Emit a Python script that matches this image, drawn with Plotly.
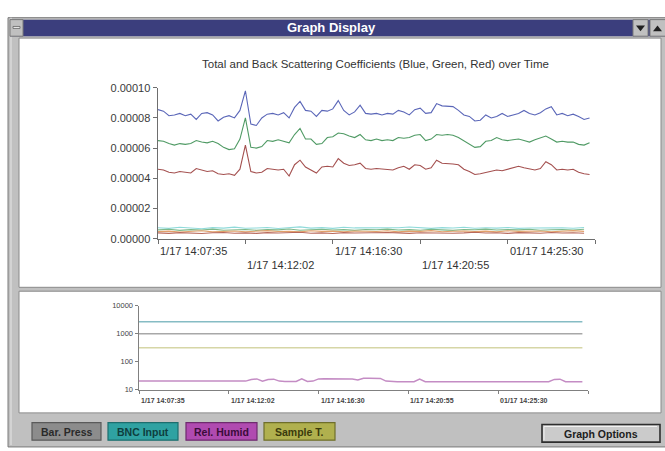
import plotly.graph_objects as go

W, H = 665, 451

# ---------------- data ----------------
# top chart: scattering coefficients, values in units of 1e-5
sample_idx = list(range(80))
blue_total = [8.55, 8.45, 8.15, 8.2, 8.3, 8.15, 8.25, 7.9, 8.3, 8.35,
              8.2, 7.8, 8.05, 8.15, 8.0, 8.5, 9.8, 7.6, 7.5, 8.0,
              8.25, 8.3, 8.2, 8.35, 8.0, 8.7, 9.1, 8.5, 8.45, 8.1,
              8.5, 8.45, 8.6, 9.15, 8.5, 8.2, 8.4, 8.85, 8.3, 8.25,
              8.3, 8.2, 8.3, 8.25, 8.5, 8.4, 8.2, 8.55, 8.65, 8.3,
              8.35, 8.95, 8.8, 8.8, 8.75, 8.5, 8.2, 8.1, 7.8, 7.85,
              8.2, 8.0, 8.1, 8.3, 8.1, 8.2, 8.3, 8.5, 8.3, 8.2,
              8.35, 8.6, 8.75, 8.2, 8.3, 8.15, 8.25, 8.1, 7.9, 8.0]
green_total = [6.5, 6.45, 6.3, 6.2, 6.3, 6.25, 6.3, 6.5, 6.4, 6.35,
               6.45, 6.3, 6.05, 5.9, 5.95, 6.6, 8.0, 6.05, 6.0, 6.1,
               6.5, 6.45, 6.55, 6.45, 6.35, 6.9, 7.3, 6.6, 6.6, 6.25,
               6.3, 6.7, 6.75, 7.0, 6.95, 6.8, 6.7, 6.9, 6.55, 6.5,
               6.6, 6.5, 6.55, 6.5, 6.7, 6.65, 6.7, 6.85, 6.9, 6.5,
               6.6, 6.9, 6.85, 6.9, 6.85, 6.7, 6.5, 6.3, 6.05, 6.1,
               6.45, 6.5, 6.7, 6.55, 6.5, 6.55, 6.6, 6.5, 6.4, 6.55,
               6.7, 6.8, 6.6, 6.4, 6.45, 6.4, 6.4, 6.25, 6.2, 6.35]
red_total = [4.6, 4.55, 4.4, 4.35, 4.45, 4.4, 4.35, 4.65, 4.55, 4.45,
             4.5, 4.3, 4.25, 4.3, 4.2, 4.6, 6.2, 4.45, 4.35, 4.4,
             4.65, 4.6, 4.55, 4.6, 4.15, 4.9, 5.2, 4.75, 4.55, 4.35,
             4.75, 4.8, 4.75, 5.3, 5.0, 4.85, 4.9, 5.0, 4.65, 4.6,
             4.65, 4.6, 4.6, 4.55, 4.7, 4.8, 4.6, 4.9, 4.85, 4.6,
             4.7, 5.2, 5.0, 5.0, 4.95, 4.9, 4.6, 4.45, 4.25, 4.3,
             4.4, 4.45, 4.55, 4.5, 4.6, 4.75, 4.8, 4.7, 4.6, 4.55,
             4.65, 5.1, 4.9, 4.55, 4.6, 4.55, 4.6, 4.4, 4.3, 4.25]

# back-scattering coefficients (low lines), sampled every other index
low_idx = list(range(0, 80, 2))
back_cyan = [0.72, 0.68, 0.75, 0.70, 0.66, 0.73, 0.70, 0.76, 0.69, 0.71,
             0.74, 0.67, 0.72, 0.78, 0.70, 0.73, 0.68, 0.75, 0.71, 0.70,
             0.74, 0.69, 0.72, 0.77, 0.70, 0.68, 0.73, 0.71, 0.75, 0.69,
             0.72, 0.70, 0.74, 0.68, 0.71, 0.73, 0.70, 0.72, 0.69, 0.74]
back_green = [0.58, 0.62, 0.55, 0.60, 0.57, 0.63, 0.56, 0.59, 0.61, 0.55,
              0.60, 0.58, 0.64, 0.56, 0.59, 0.62, 0.57, 0.60, 0.55, 0.61,
              0.59, 0.63, 0.57, 0.60, 0.56, 0.62, 0.58, 0.55, 0.61, 0.59,
              0.63, 0.57, 0.60, 0.58, 0.62, 0.56, 0.59, 0.61, 0.57, 0.62]
back_orange = [0.47, 0.50, 0.44, 0.49, 0.52, 0.45, 0.48, 0.51, 0.46, 0.50,
               0.53, 0.47, 0.49, 0.45, 0.52, 0.48, 0.50, 0.46, 0.51, 0.49,
               0.47, 0.52, 0.45, 0.50, 0.48, 0.53, 0.46, 0.49, 0.51, 0.47,
               0.50, 0.45, 0.52, 0.48, 0.49, 0.51, 0.46, 0.50, 0.53, 0.48]
back_red = [0.38, 0.35, 0.40, 0.37, 0.34, 0.39, 0.41, 0.36, 0.38, 0.35,
            0.40, 0.37, 0.39, 0.42, 0.36, 0.38, 0.34, 0.40, 0.37, 0.39,
            0.36, 0.41, 0.38, 0.35, 0.39, 0.37, 0.40, 0.36, 0.38, 0.42,
            0.37, 0.39, 0.35, 0.40, 0.38, 0.36, 0.41, 0.37, 0.39, 0.36]

top_tick_idx = [0, 16, 32, 48, 64, 80]
time_labels = ["1/17 14:07:35", "1/17 14:12:02", "1/17 14:16:30",
               "1/17 14:20:55", "01/17 14:25:30"]
top_y_ticks = [0, 2e-5, 4e-5, 6e-5, 8e-5, 1e-4]
top_y_text = ["0.00000", "0.00002", "0.00004", "0.00006", "0.00008", "0.00010"]

# bottom chart: auxiliary sensors (log scale)
flat_idx = [0, 79]
bnc_input = [2700, 2700]
bar_press = [1000, 1000]
sample_temp = [316, 316]
rel_humid = [20, 20, 20, 20, 20, 20, 20, 20, 20, 20,
             20, 20, 20, 20, 20, 20, 20, 20, 20, 20,
             23, 24, 20, 23, 23.5, 20, 19.5, 19.5, 19.5, 24,
             19.5, 20, 24, 24.5, 24.5, 24.5, 24.5, 24, 24, 22,
             25.5, 25.5, 25.5, 25, 20, 19, 19, 19, 19, 19,
             23.5, 19, 19, 19, 19, 19, 19, 19, 19, 19,
             19, 19, 19, 19, 19, 19, 19, 19, 19, 19,
             19, 19, 19, 19, 23, 23.5, 19, 19, 19, 19]
bot_y_ticks = [10, 100, 1000, 10000]
bot_y_text = ["10", "100", "1000", "10000"]

legend_names = ["Bar. Press", "BNC Input", "Rel. Humid", "Sample T."]

# ---------------- figure ----------------
E5 = 1e-5
fig = go.Figure()

def top_line(xs, vals, color, w=1.1):
    fig.add_trace(go.Scatter(x=xs, y=[v * E5 for v in vals], mode="lines",
                             line=dict(color=color, width=w), xaxis="x", yaxis="y",
                             hoverinfo="skip"))

top_line(low_idx, back_cyan, "#8fdada")
top_line(low_idx, back_green, "#7fb889")
top_line(low_idx, back_orange, "#e2a06a")
top_line(low_idx, back_red, "#b86a5c")
top_line(sample_idx, red_total, "#a4504f")
top_line(sample_idx, green_total, "#4f9a64")
top_line(sample_idx, blue_total, "#5a66b8")

def bot_line(xs, vals, color, w=1.5):
    fig.add_trace(go.Scatter(x=xs, y=vals, mode="lines",
                             line=dict(color=color, width=w), xaxis="x2", yaxis="y2",
                             hoverinfo="skip"))

bot_line(flat_idx, bnc_input, "#86bcc4")
bot_line(flat_idx, bar_press, "#a8a8a8")
bot_line(flat_idx, sample_temp, "#d6d6a6")
bot_line(sample_idx, rel_humid, "#c48cc4")

# ---------------- window chrome ----------------
shapes = []

def R(x0, y0, x1, y1, fill, line=None, lw=1.0, layer="below"):
    shapes.append(dict(type="rect", xref="paper", yref="paper",
                       x0=x0 / W, x1=x1 / W, y0=1 - y1 / H, y1=1 - y0 / H,
                       fillcolor=fill, layer=layer,
                       line=dict(color=line if line else fill, width=lw if line else 0)))

def L(x0, y0, x1, y1, color, lw=1.0, layer="below"):
    shapes.append(dict(type="line", xref="paper", yref="paper",
                       x0=x0 / W, x1=x1 / W, y0=1 - y0 / H, y1=1 - y1 / H,
                       line=dict(color=color, width=lw), layer=layer))

def P(pts, fill):
    d = "M " + " L ".join(f"{x / W:.5f},{1 - y / H:.5f}" for x, y in pts) + " Z"
    shapes.append(dict(type="path", xref="paper", yref="paper", path=d,
                       fillcolor=fill, line=dict(color=fill, width=0), layer="above"))

R(8, 12, 667, 453, "#c0c0c0", "#7a7a7a")
L(11, 12, 11, 451, "#e6e6e6")
R(10, 14, 667, 31, "#3b3e7d")
R(10, 14, 23, 31, "#c0c0c0", "#7a7a7a")
R(13, 21, 20, 23, "#f4f4f4", "#606060", 0.8)
R(633, 14, 648, 31, "#c0c0c0", "#7a7a7a")
R(650, 14, 667, 31, "#c0c0c0", "#7a7a7a")
P([(636, 20), (645, 20), (640.5, 26)], "#202020")
P([(653, 26), (662, 26), (657.5, 20)], "#202020")
R(19, 33, 661, 289, "#ffffff", "#8a8a8a")
R(19, 293, 661, 418, "#ffffff", "#8a8a8a")

btn_boxes = [(32, 101), (108, 178), (186, 257), (264, 335)]
btn_fill = ["#8c8c8c", "#2fa2a2", "#b04ab0", "#b0b04e"]
btn_edge = ["#5a5a5a", "#1d6e6e", "#6e2a6e", "#6e6e2a"]
btn_text = ["#2a2a2a", "#0e3e3e", "#3a0c3a", "#3a3a0c"]
for (bx0, bx1), f, e in zip(btn_boxes, btn_fill, btn_edge):
    R(bx0, 428, bx1, 446, f, e, 1.2)
R(542, 430, 660, 448, "#cbcbcb", "#2e2e2e", 1.6)
L(544, 432, 657, 432, "#f2f2f2")
L(544, 432, 544, 446, "#f2f2f2")

annotations = []

def T(x, y, text, size, color="#333333", family="Liberation Sans, Arial, sans-serif",
      xanchor="center", xref="paper", bold=False):
    annotations.append(dict(x=x if xref != "paper" else x / W, y=1 - y / H,
                            xref=xref, yref="paper", text=f"<b>{text}</b>" if bold else text,
                            showarrow=False, xanchor=xanchor, yanchor="middle",
                            font=dict(size=size, color=color, family=family)))

NARROW = "Liberation Sans Narrow, Arial Narrow, Liberation Sans, sans-serif"
T(331, 22.5, "Graph Display", 13, "#ffffff", NARROW, bold=True)
T(375, 60, "Total and Back Scattering Coefficients (Blue, Green, Red) over Time", 11.5, "#333333")

# staggered x labels, top chart
for i, lab in enumerate(time_labels):
    yy = 252 if i % 2 == 0 else 266
    T(top_tick_idx[i], yy, lab, 11, "#333333", xanchor="left", xref="x")
# bottom chart x labels
for i, lab in enumerate(time_labels):
    T(top_tick_idx[i], 405, lab, 7, "#444444", NARROW, xanchor="left", xref="x2", bold=True)

for (bx0, bx1), name, tc in zip(btn_boxes, legend_names, btn_text):
    T((bx0 + bx1) / 2, 437.5, name, 10.5, tc, NARROW, bold=True)
T(601, 439.5, "Graph Options", 10.5, "#202020", NARROW, bold=True)

axis_line = "#6e6e6e"
fig.update_layout(
    width=W, height=H, margin=dict(l=0, r=0, t=0, b=0),
    paper_bgcolor="#ffffff", plot_bgcolor="rgba(0,0,0,0)", showlegend=False,
    shapes=shapes, annotations=annotations,
    xaxis=dict(domain=[158 / W, 595 / W], range=[0, 80], anchor="y",
               showgrid=False, zeroline=False, showline=True, linecolor=axis_line,
               linewidth=1.5, ticks="outside", ticklen=4, tickcolor=axis_line,
               tickvals=top_tick_idx, showticklabels=False, fixedrange=True),
    yaxis=dict(domain=[1 - 239 / H, 1 - 84 / H], range=[0, 1e-4], anchor="x",
               showgrid=False, zeroline=False, showline=True, linecolor=axis_line,
               linewidth=1.5, ticks="outside", ticklen=4, tickcolor=axis_line,
               tickvals=top_y_ticks, ticktext=top_y_text,
               tickfont=dict(size=11, color="#3a3a3a", family="Liberation Sans, Arial, sans-serif"),
               fixedrange=True),
    xaxis2=dict(domain=[139 / W, 588 / W], range=[0, 80], anchor="y2",
                showgrid=False, zeroline=False, showline=True, linecolor="#808080",
                linewidth=1.5, ticks="outside", ticklen=3, tickcolor="#808080",
                tickvals=top_tick_idx, showticklabels=False, fixedrange=True),
    yaxis2=dict(domain=[1 - 394 / H, 1 - 308 / H], type="log", range=[1, 4], anchor="x2",
                showgrid=False, zeroline=False, showline=True, linecolor="#808080",
                linewidth=1.5, ticks="outside", ticklen=3, tickcolor="#808080",
                tickvals=bot_y_ticks, ticktext=bot_y_text,
                tickfont=dict(size=7.5, color="#444444", family=NARROW),
                fixedrange=True),
)

fig.write_html("out.html", config={"displayModeBar": False, "staticPlot": True},
               post_script="document.body.style.margin='0';document.body.style.overflow='hidden';")
